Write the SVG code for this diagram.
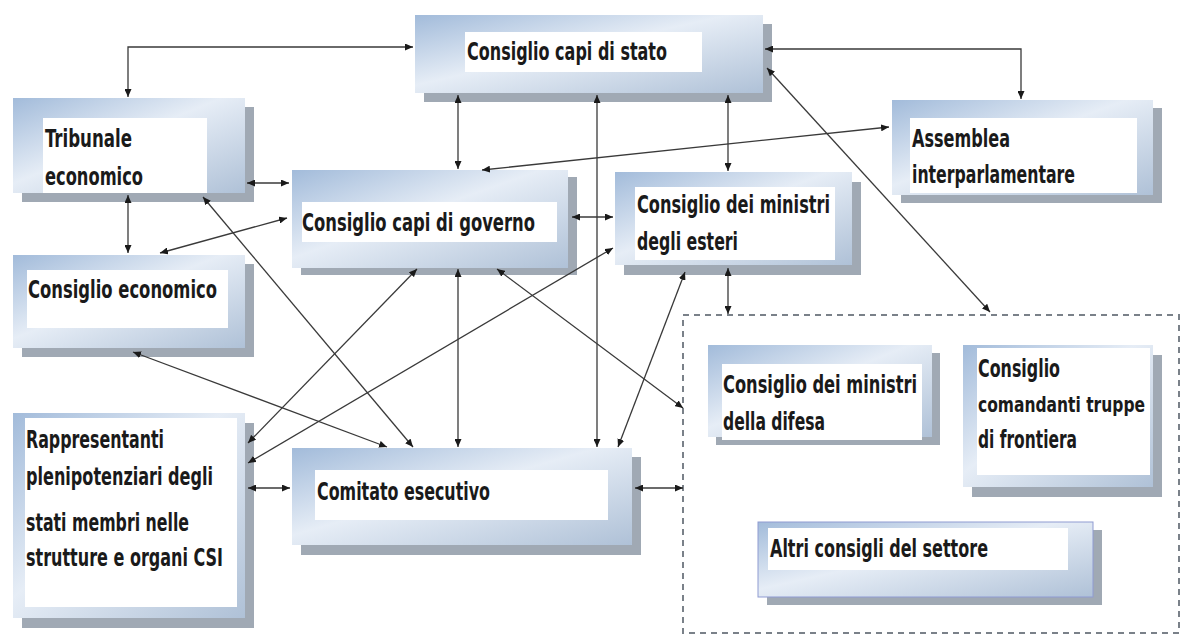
<svg xmlns="http://www.w3.org/2000/svg" width="1184" height="635" viewBox="0 0 1184 635">
<defs>
<linearGradient id="g" x1="0" y1="0" x2="1" y2="1">
<stop offset="0" stop-color="#a2bbda"/>
<stop offset="0.45" stop-color="#e6edf6"/>
<stop offset="1" stop-color="#afc1d7"/>
</linearGradient>
<marker id="a" viewBox="0 0 8 7" refX="8" refY="3.5" markerWidth="8" markerHeight="7" markerUnits="userSpaceOnUse" orient="auto-start-reverse">
<path d="M0,0 L8,3.5 L0,7 z" fill="#1a1a1a"/>
</marker>
</defs>
<style>
.sh{fill:#a0a9b4}
.bx{fill:url(#g)}
.in{fill:#ffffff}
.t{font-family:"DejaVu Sans Condensed","DejaVu Sans",sans-serif;font-stretch:condensed;font-weight:bold;font-size:24px;fill:#1a1a1a}
.c{fill:none;stroke:#3a3a3a;stroke-width:1.3;marker-start:url(#a);marker-end:url(#a)}
.d{fill:#ffffff;stroke:#7a8189;stroke-width:2;stroke-dasharray:6 5}
</style>
<rect width="1184" height="635" fill="#ffffff"/>
<rect id="settore" class="d" x="683" y="315" width="496" height="318"/>

<g id="stato">
<rect class="sh" x="424" y="24" width="348" height="78"/>
<rect class="bx" x="415" y="15" width="348" height="78"/>
<rect class="in" x="465" y="32" width="237" height="40"/>
<text class="t" x="467" y="60" textLength="200" lengthAdjust="spacingAndGlyphs">Consiglio capi di stato</text>
</g>

<g id="tribunale">
<rect class="sh" x="22" y="107" width="232" height="95"/>
<rect class="bx" x="13" y="98" width="232" height="95"/>
<rect class="in" x="43" y="118" width="164" height="75"/>
<text class="t" x="45" y="147" textLength="87" lengthAdjust="spacingAndGlyphs">Tribunale</text>
<text class="t" x="45" y="185" textLength="98" lengthAdjust="spacingAndGlyphs">economico</text>
</g>

<g id="assemblea">
<rect class="sh" x="901" y="108" width="261" height="95"/>
<rect class="bx" x="892" y="100" width="261" height="95"/>
<rect class="in" x="910" y="118" width="227" height="75"/>
<text class="t" x="912" y="147" textLength="98" lengthAdjust="spacingAndGlyphs">Assemblea</text>
<text class="t" x="912" y="183" textLength="163" lengthAdjust="spacingAndGlyphs">interparlamentare</text>
</g>

<g id="governo">
<rect class="sh" x="301" y="177" width="276" height="98"/>
<rect class="bx" x="292" y="170" width="276" height="98"/>
<rect class="in" x="302" y="202" width="255" height="40"/>
<text class="t" x="302" y="231" textLength="233" lengthAdjust="spacingAndGlyphs">Consiglio capi di governo</text>
</g>

<g id="esteri">
<rect class="sh" x="624" y="182" width="237" height="93"/>
<rect class="bx" x="615" y="172" width="237" height="93"/>
<rect class="in" x="635" y="187" width="200" height="73"/>
<text class="t" x="637" y="213" textLength="193" lengthAdjust="spacingAndGlyphs">Consiglio dei ministri</text>
<text class="t" x="637" y="250" textLength="101" lengthAdjust="spacingAndGlyphs">degli esteri</text>
</g>

<g id="economico">
<rect class="sh" x="22" y="264" width="232" height="93"/>
<rect class="bx" x="13" y="255" width="232" height="93"/>
<rect class="in" x="27" y="270" width="201" height="58"/>
<text class="t" x="28" y="298" textLength="189" lengthAdjust="spacingAndGlyphs">Consiglio economico</text>
</g>

<g id="rappresentanti">
<rect class="sh" x="22" y="423" width="232" height="205"/>
<rect class="bx" x="13" y="413" width="232" height="205"/>
<rect class="in" x="25" y="418" width="212" height="189"/>
<text class="t" x="26" y="448" textLength="138" lengthAdjust="spacingAndGlyphs">Rappresentanti</text>
<text class="t" x="26" y="485" textLength="187" lengthAdjust="spacingAndGlyphs">plenipotenziari degli</text>
<text class="t" x="26" y="531" textLength="163" lengthAdjust="spacingAndGlyphs">stati membri nelle</text>
<text class="t" x="26" y="566" textLength="197" lengthAdjust="spacingAndGlyphs">strutture e organi CSI</text>
</g>

<g id="comitato">
<rect class="sh" x="301" y="457" width="340" height="98"/>
<rect class="bx" x="292" y="448" width="340" height="97"/>
<rect class="in" x="315" y="470" width="293" height="50"/>
<text class="t" x="317" y="500" textLength="173" lengthAdjust="spacingAndGlyphs">Comitato esecutivo</text>
</g>

<g id="difesa">
<rect class="sh" x="716" y="353" width="224" height="92"/>
<rect class="bx" x="708" y="345" width="224" height="92"/>
<rect class="in" x="722" y="364" width="200" height="76"/>
<text class="t" x="723" y="393" textLength="194" lengthAdjust="spacingAndGlyphs">Consiglio dei ministri</text>
<text class="t" x="723" y="430" textLength="102" lengthAdjust="spacingAndGlyphs">della difesa</text>
</g>

<g id="comandanti">
<rect class="sh" x="972" y="355" width="190" height="142"/>
<rect class="bx" x="963" y="345" width="190" height="142"/>
<rect class="in" x="977" y="348" width="173" height="127"/>
<text class="t" x="978" y="377" textLength="82" lengthAdjust="spacingAndGlyphs">Consiglio</text>
<text class="t" x="978" y="412" textLength="167" lengthAdjust="spacingAndGlyphs" style="font-size:21px">comandanti truppe</text>
<text class="t" x="978" y="448" textLength="99" lengthAdjust="spacingAndGlyphs">di frontiera</text>
</g>

<g id="altri">
<rect class="sh" x="767" y="530" width="335" height="75"/>
<rect class="bx" x="758" y="522" width="335" height="75" stroke="#8f9bd2" stroke-width="1"/>
<rect class="in" x="768" y="528" width="300" height="42"/>
<text class="t" x="770" y="557" textLength="218" lengthAdjust="spacingAndGlyphs">Altri consigli del settore</text>
</g>

<g id="connectors">
<polyline class="c" points="413,47 128,47 128,97"/>
<polyline class="c" points="765,49 1021,49 1021,99"/>
<line class="c" x1="458" y1="95" x2="458" y2="169"/>
<line class="c" x1="728" y1="95" x2="728" y2="171"/>
<line class="c" x1="597" y1="95" x2="597" y2="447"/>
<line class="c" x1="767" y1="68" x2="990" y2="312"/>
<line class="c" x1="482" y1="170" x2="889" y2="127"/>
<line class="c" x1="247" y1="183" x2="289" y2="183"/>
<line class="c" x1="128" y1="195" x2="128" y2="253"/>
<line class="c" x1="287" y1="218" x2="160" y2="253"/>
<line class="c" x1="572" y1="217" x2="613" y2="217"/>
<line class="c" x1="203" y1="197" x2="413" y2="447"/>
<line class="c" x1="133" y1="352" x2="387" y2="447"/>
<line class="c" x1="417" y1="269" x2="248" y2="443"/>
<line class="c" x1="458" y1="269" x2="458" y2="447"/>
<line class="c" x1="497" y1="269" x2="683" y2="408"/>
<line class="c" x1="613" y1="248" x2="248" y2="463"/>
<line class="c" x1="685" y1="272" x2="618" y2="447"/>
<line class="c" x1="728" y1="268" x2="728" y2="314"/>
<line class="c" x1="248" y1="488" x2="290" y2="488"/>
<line class="c" x1="635" y1="488" x2="683" y2="488"/>
</g>
</svg>
